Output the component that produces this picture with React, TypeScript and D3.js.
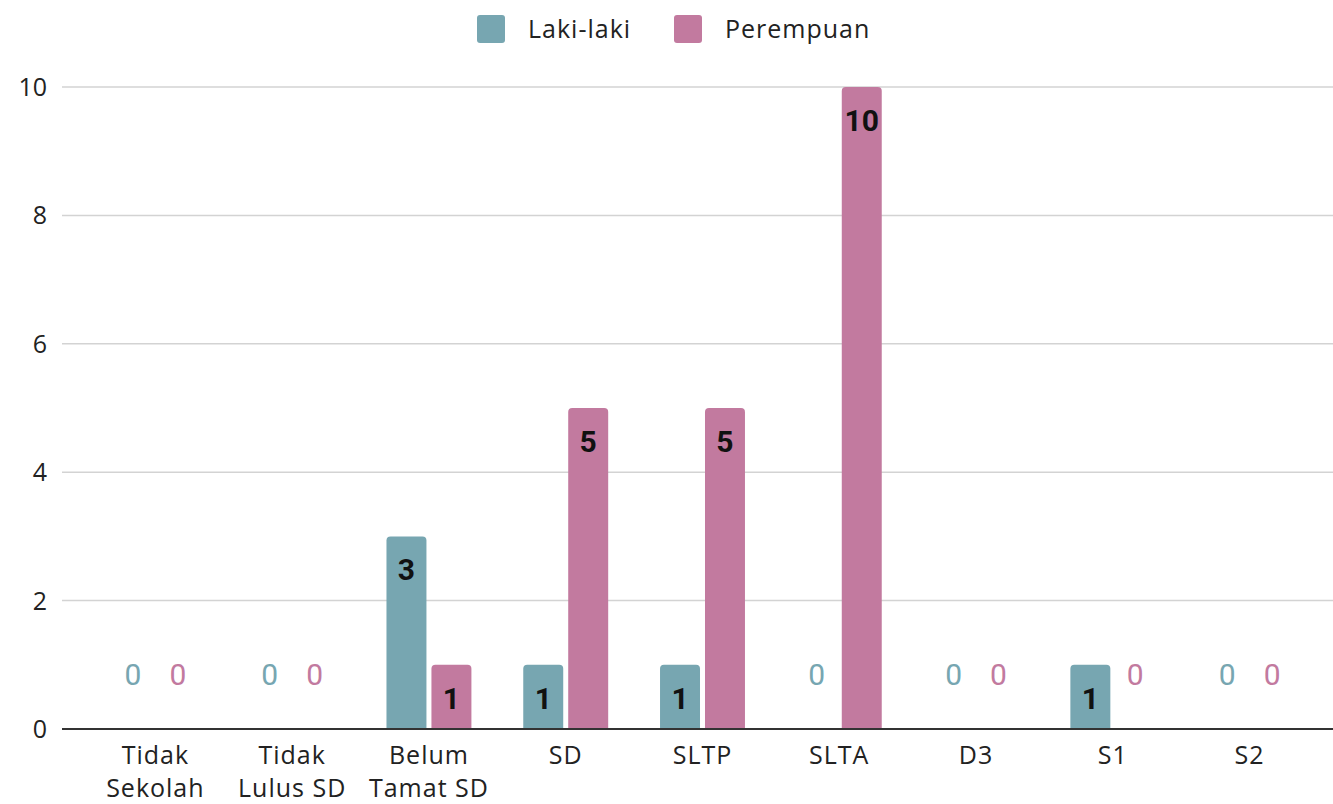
import React from "react";
import * as d3 from "d3";

const categories: string[][] = [
  ["Tidak", "Sekolah"],
  ["Tidak", "Lulus SD"],
  ["Belum", "Tamat SD"],
  ["SD"],
  ["SLTP"],
  ["SLTA"],
  ["D3"],
  ["S1"],
  ["S2"],
];
const seriesNames = ["Laki-laki", "Perempuan"];
const lakiLaki = [0, 0, 3, 1, 1, 0, 0, 1, 0];
const perempuan = [0, 0, 1, 5, 5, 10, 0, 0, 0];
const yTicks = [0, 2, 4, 6, 8, 10];
const colors = ["#77a6b1", "#c27a9f"];

const W = 1333;
const H = 804;

function topRoundedRect(x: number, y: number, w: number, h: number, r: number) {
  const rr = Math.min(r, h, w / 2);
  return `M${x},${y + h}V${y + rr}Q${x},${y} ${x + rr},${y}H${x + w - rr}Q${x + w},${y} ${x + w},${y + rr}V${y + h}Z`;
}

export default function App() {
  const keys = categories.map((c) => c.join(" "));
  const x0 = d3
    .scaleBand<string>()
    .domain(keys)
    .range([87, 1318])
    .paddingInner(0.379)
    .paddingOuter(0.1895);
  const x1 = d3
    .scaleBand<string>()
    .domain(seriesNames)
    .range([0, x0.bandwidth()])
    .paddingInner(0.111);
  const y = d3.scaleLinear().domain([0, 10]).range([729, 87]);
  const series = [lakiLaki, perempuan];
  const font = "'Open Sans', 'DejaVu Sans', sans-serif";
  const numFont = "Roboto, 'Open Sans', sans-serif";

  return (
    <svg
      width={W}
      height={H}
      style={{ position: "absolute", left: 0, top: 0, background: "#fff" }}
    >
      <rect x={0} y={0} width={W} height={H} fill="#fff" />
      {/* gridlines */}
      {yTicks
        .filter((t) => t !== 0)
        .map((t) => (
          <line key={t} x1={62} x2={W} y1={y(t)} y2={y(t)} stroke="#d3d3d3" strokeWidth={1.5} />
        ))}
      {/* y tick labels */}
      {yTicks.map((t) => (
        <text
          key={"yt" + t}
          x={47}
          y={y(t)}
          dy="0.36em"
          textAnchor="end"
          fontFamily={font}
          fontSize={25}
          fill="#222"
        >
          {t}
        </text>
      ))}
      {/* bars */}
      {keys.map((k, i) => (
        <g key={k} transform={`translate(${x0(k)},0)`}>
          {series.map((s, j) => {
            const v = s[i];
            const bx = x1(seriesNames[j])!;
            const bw = x1.bandwidth();
            if (v === 0) {
              return (
                <text
                  key={j}
                  x={bx + bw / 2}
                  y={y(0) - 44}
                  textAnchor="middle"
                  fontFamily={numFont}
                  fontSize={30}
                  fill={colors[j]}
                >
                  0
                </text>
              );
            }
            return (
              <g key={j}>
                <path d={topRoundedRect(bx, y(v), bw, y(0) - y(v), 4)} fill={colors[j]} />
                <text
                  x={bx + bw / 2}
                  y={y(v) + 44}
                  textAnchor="middle"
                  fontFamily={numFont}
                  fontWeight="bold"
                  fontSize={30}
                  fill="#111"
                >
                  {v}
                </text>
              </g>
            );
          })}
        </g>
      ))}
      {/* baseline */}
      <line x1={62} x2={W} y1={y(0)} y2={y(0)} stroke="#333" strokeWidth={2} />
      {/* x labels */}
      {categories.map((c, i) => (
        <text
          key={"xl" + i}
          x={x0(keys[i])! + x0.bandwidth() / 2}
          textAnchor="middle"
          fontFamily={font}
          fontSize={25}
          letterSpacing={1}
          fill="#222"
        >
          {c.map((line, li) => (
            <tspan key={li} x={x0(keys[i])! + x0.bandwidth() / 2} y={764 + li * 33}>
              {line}
            </tspan>
          ))}
        </text>
      ))}
      {/* legend */}
      {seriesNames.map((n, j) => {
        const lx = [477, 674][j];
        return (
          <g key={n}>
            <rect x={lx} y={15} width={28} height={28} rx={3} fill={colors[j]} />
            <text x={lx + 51} y={38} fontFamily={font} fontSize={25} letterSpacing={1} fill="#222">
              {n}
            </text>
          </g>
        );
      })}
    </svg>
  );
}
